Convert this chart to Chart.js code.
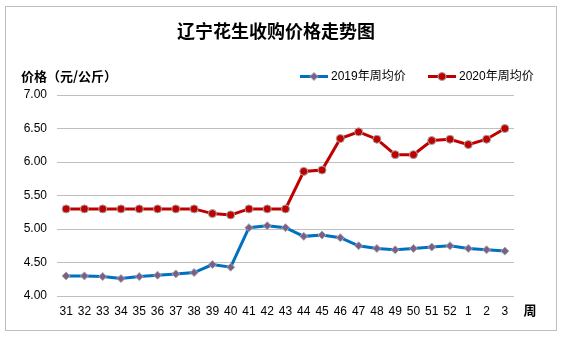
<!DOCTYPE html>
<html>
<head>
<meta charset="utf-8">
<script src="https://cdn.jsdelivr.net/npm/chart.js@4.4.0/dist/chart.umd.min.js"></script>
<style>
  html, body { margin: 0; padding: 0; background: #fff; }
</style>
</head>
<body>
<canvas id="myChart" width="566" height="337"></canvas>
<script>
const weeks = ['31', '32', '33', '34', '35', '36', '37', '38', '39', '40', '41', '42', '43',
               '44', '45', '46', '47', '48', '49', '50', '51', '52', '1', '2', '3'];
const price2019 = [4.30, 4.30, 4.29, 4.26, 4.29, 4.31, 4.33, 4.35, 4.47, 4.43, 5.02, 5.05, 5.02,
                   4.89, 4.91, 4.87, 4.75, 4.71, 4.69, 4.71, 4.73, 4.75, 4.71, 4.69, 4.67];
const price2020 = [5.30, 5.30, 5.30, 5.30, 5.30, 5.30, 5.30, 5.30, 5.23, 5.21, 5.30, 5.30, 5.30,
                   5.86, 5.88, 6.35, 6.45, 6.34, 6.11, 6.11, 6.32, 6.34, 6.26, 6.34, 6.50];
const seriesNames = ['2019年周均价', '2020年周均价'];
const chartTitle = '辽宁花生收购价格走势图';
const yTitle = '价格（元/公斤）';
const xTitle = '周';

const numFont = '"Liberation Sans", "Noto Sans CJK SC", sans-serif';
const cjkFont = '"Noto Sans CJK SC", sans-serif';

// marker for the legend, same shape as in the chart
function drawMarker(ctx, x, y, style, fill) {
    ctx.save();
    ctx.fillStyle = fill;
    ctx.strokeStyle = '#A6A6A6';
    ctx.lineWidth = 1;
    ctx.beginPath();
    if (style === 'rectRot') {
        ctx.moveTo(x, y - 4);
        ctx.lineTo(x + 4, y);
        ctx.lineTo(x, y + 4);
        ctx.lineTo(x - 4, y);
        ctx.closePath();
    } else {
        ctx.arc(x, y, 4, 0, Math.PI * 2);
    }
    ctx.fill();
    ctx.stroke();
    ctx.restore();
}

const decorPlugin = {
    id: 'decor',
    beforeDraw(chart) {
        const ctx = chart.ctx;
        ctx.save();
        ctx.fillStyle = '#fff';
        ctx.fillRect(0, 0, chart.width, chart.height);
        ctx.strokeStyle = '#BFBFBF';
        ctx.lineWidth = 1;
        ctx.strokeRect(5.5, 6.5, 551, 324);
        ctx.restore();
    },
    afterDraw(chart) {
        const ctx = chart.ctx;
        ctx.save();
        ctx.fillStyle = '#000';
        ctx.textBaseline = 'middle';

        ctx.font = 'bold 18px ' + cjkFont;
        ctx.textAlign = 'center';
        ctx.fillText(chartTitle, 276, 31);

        ctx.font = 'bold 13px ' + cjkFont;
        ctx.textAlign = 'left';
        ctx.fillText(yTitle, 21, 76);

        ctx.textAlign = 'center';
        ctx.fillText(xTitle, 530, 310);

        // legend
        const items = [
            { x: 300, color: '#0070C0', style: 'rectRot', fill: '#7B5F88' },
            { x: 428, color: '#C00000', style: 'circle', fill: '#C00000' }
        ];
        items.forEach((it, i) => {
            ctx.strokeStyle = it.color;
            ctx.lineWidth = 3;
            ctx.beginPath();
            ctx.moveTo(it.x, 76.5);
            ctx.lineTo(it.x + 28, 76.5);
            ctx.stroke();
            drawMarker(ctx, it.x + 14, 76.5, it.style, it.fill);
            ctx.font = '12px ' + numFont;
            ctx.textAlign = 'left';
            ctx.fillStyle = '#000';
            ctx.fillText(seriesNames[i], it.x + 31, 77);
        });
        ctx.restore();
    }
};

const ctx = document.getElementById('myChart');
const chartPrice = new Chart(ctx, {
    type: 'line',
    data: {
        labels: weeks,
        datasets: [{
            label: seriesNames[0],
            data: price2019,
            borderColor: '#0070C0',
            borderWidth: 3,
            pointStyle: 'rectRot',
            pointRadius: 4,
            pointBackgroundColor: '#7B5F88',
            pointBorderColor: '#A6A6A6',
            pointBorderWidth: 1,
            tension: 0
        }, {
            label: seriesNames[1],
            data: price2020,
            borderColor: '#C00000',
            borderWidth: 3,
            pointStyle: 'circle',
            pointRadius: 4,
            pointBackgroundColor: '#C00000',
            pointBorderColor: '#A6A6A6',
            pointBorderWidth: 1,
            tension: 0
        }]
    },
    options: {
        responsive: false,
        animation: false,
        layout: { padding: { top: 95, right: 52, left: 0, bottom: 0 } },
        plugins: {
            legend: { display: false },
            title: { display: false },
            tooltip: { enabled: false }
        },
        scales: {
            x: {
                offset: true,
                grid: { display: false, drawTicks: false },
                border: { display: false },
                ticks: {
                    color: '#000',
                    font: { size: 12, family: numFont },
                    padding: 8,
                    maxRotation: 0,
                    autoSkip: false
                },
                afterFit: s => { s.height = 41; }
            },
            y: {
                min: 4,
                max: 7,
                grid: { color: '#BFBFBF', drawTicks: false },
                border: { display: false },
                ticks: {
                    stepSize: 0.5,
                    color: '#000',
                    font: { size: 12, family: numFont },
                    padding: 10,
                    callback: v => v.toFixed(2)
                },
                afterFit: s => { s.width = 57; }
            }
        }
    },
    plugins: [decorPlugin]
});
</script>
</body>
</html>
